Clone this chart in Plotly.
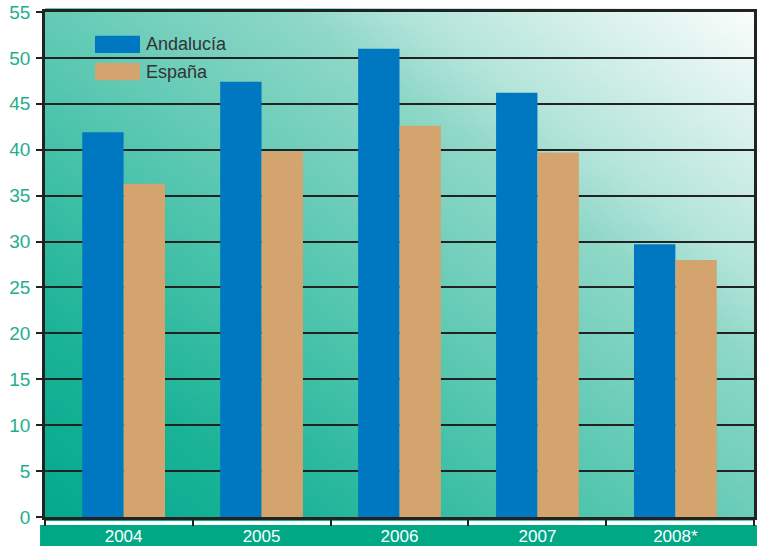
import base64
import struct
import zlib

import plotly.graph_objects as go

# ---------------- data ----------------
years = ["2004", "2005", "2006", "2007", "2008*"]
andalucia = [41.9, 47.4, 51.0, 46.2, 29.7]
espana = [36.3, 39.8, 42.6, 39.7, 28.0]
series_names = ["Andalucía", "España"]
y_ticks = list(range(0, 60, 5))

# ---------------- styles ----------------
BLUE = "#0078c1"
TAN = "#d3a46e"
TEAL_TEXT = "#1fae8e"
BAND = "#00a886"
LINE = "#222222"
FONT = "Liberation Sans, Arial, sans-serif"


# ---------------- background gradient (decoration) ----------------
def lerp(a, b, t):
    return a + (b - a) * t


stops = [
    (-1.0, (0, 168, 138)),
    (-0.6, (26, 179, 152)),
    (-0.3, (64, 192, 167)),
    (0.35, (143, 216, 200)),
    (0.5, (178, 228, 218)),
    (0.8, (222, 243, 238)),
    (1.0, (250, 253, 252)),
]


def color_at(s):
    if s <= stops[0][0]:
        return stops[0][1]
    for (s0, c0), (s1, c1) in zip(stops, stops[1:]):
        if s <= s1:
            t = (s - s0) / (s1 - s0)
            return tuple(int(round(lerp(a, b, t))) for a, b in zip(c0, c1))
    return stops[-1][1]


W, H = 160, 110
raw = bytearray()
for j in range(H):
    raw.append(0)
    w = j / (H - 1)  # 0 top .. 1 bottom
    for i in range(W):
        u = i / (W - 1)
        raw.extend(color_at(u - 0.95 * w))


def png_chunk(tag, data):
    c = struct.pack(">I", len(data)) + tag + data
    return c + struct.pack(">I", zlib.crc32(tag + data) & 0xFFFFFFFF)


png = b"\x89PNG\r\n\x1a\n"
png += png_chunk(b"IHDR", struct.pack(">IIBBBBB", W, H, 8, 2, 0, 0, 0))
png += png_chunk(b"IDAT", zlib.compress(bytes(raw), 9))
png += png_chunk(b"IEND", b"")
img_uri = "data:image/png;base64," + base64.b64encode(png).decode()

# ---------------- figure ----------------
xpos = list(range(len(years)))
fig = go.Figure()
fig.add_trace(go.Bar(x=xpos, y=andalucia, name=series_names[0],
                     marker=dict(color=BLUE, line=dict(width=0))))
fig.add_trace(go.Bar(x=xpos, y=espana, name=series_names[1],
                     marker=dict(color=TAN, line=dict(width=0))))

fig.update_layout(
    width=757, height=546,
    margin=dict(l=45, r=3, t=12, b=29),
    paper_bgcolor="white",
    plot_bgcolor="rgba(0,0,0,0)",
    barmode="group",
    bargap=0.4,
    bargroupgap=0,
    showlegend=False,
    font=dict(family=FONT, size=17, color="#333333"),
    images=[dict(source=img_uri, xref="paper", yref="paper", x=0, y=1.008,
                 sizex=1, sizey=1.016, xanchor="left", yanchor="top",
                 sizing="stretch", layer="below")],
)

fig.update_xaxes(
    automargin=False,
    range=[-0.57, 4.57],
    tickmode="array", tickvals=xpos, ticktext=years,
    ticks="", showgrid=False, zeroline=False,
    showline=True, linecolor=LINE, linewidth=2.5, mirror=True,
    tickfont=dict(family=FONT, size=17, color="white"),
    ticklabelstandoff=2,
    minor=dict(tickmode="array", tickvals=[-0.57, 0.5, 1.5, 2.5, 3.5, 4.57],
               ticks="outside", ticklen=6, tickcolor=LINE, tickwidth=2,
               showgrid=False),
)
fig.update_yaxes(
    automargin=False,
    range=[0, 55],
    tickmode="array", tickvals=y_ticks,
    ticks="outside", ticklen=6, tickcolor=LINE, tickwidth=2,
    showgrid=True, gridcolor=LINE, gridwidth=2,
    zeroline=False,
    showline=True, linecolor=LINE, linewidth=2.5, mirror=True,
    tickfont=dict(family=FONT, size=19, color=TEAL_TEXT),
    ticklabelstandoff=2,
)

# green band under the x axis (decoration)
fig.add_shape(type="rect", xref="paper", yref="paper",
              x0=-0.007, x1=1.005, y0=-0.058, y1=-0.016,
              fillcolor=BAND, line=dict(width=0), layer="below")

# manual legend with wide swatches
legend_colors = [BLUE, TAN]
for k, (name, col) in enumerate(zip(series_names, legend_colors)):
    yc = 0.936 - k * 0.054
    fig.add_shape(type="rect", xref="paper", yref="paper",
                  x0=0.0705, x1=0.134, y0=yc - 0.017, y1=yc + 0.017,
                  fillcolor=col, line=dict(width=0), layer="above")
    fig.add_annotation(xref="paper", yref="paper", x=0.139, y=yc,
                       text=name, showarrow=False, xanchor="left",
                       yanchor="middle",
                       font=dict(family=FONT, size=18, color="#333333"))

fig.write_html("out.html",
               config={"displayModeBar": False},
               post_script="document.body.style.margin='0';"
                           "document.body.style.overflow='hidden';")
